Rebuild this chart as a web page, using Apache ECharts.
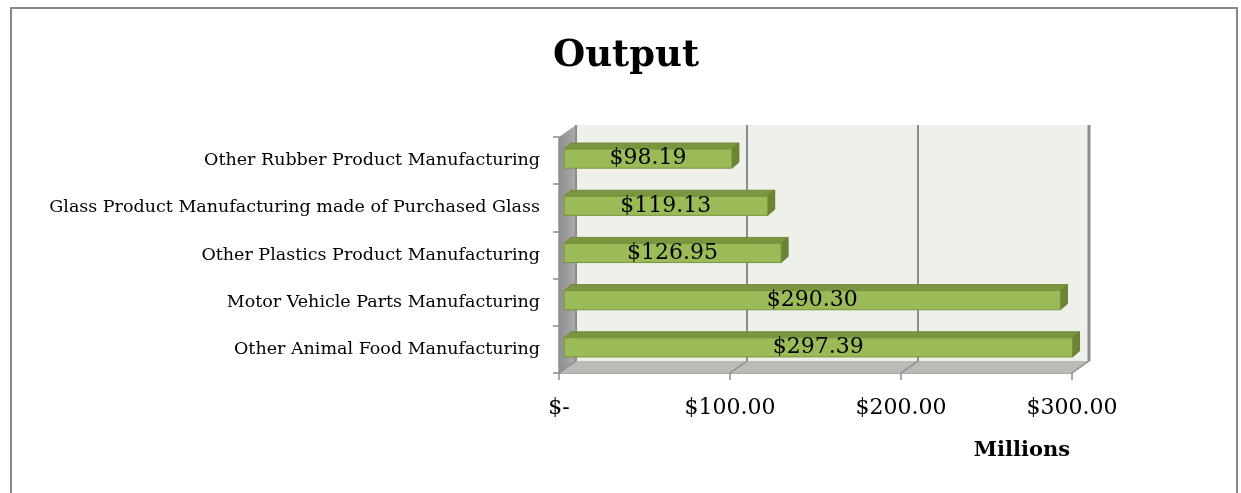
<!DOCTYPE html>
<html>
<head>
<meta charset="utf-8">
<title>Output</title>
<script src="https://cdn.jsdelivr.net/npm/echarts@6/dist/echarts.min.js"></script>
<style>
  html, body { margin: 0; padding: 0; background: #fff; }
  #chart { width: 1241px; height: 493px; }
</style>
</head>
<body>
<div id="chart"></div>
<script>
// values in millions of dollars
const categories = [
  'Other Rubber Product Manufacturing',
  'Glass Product Manufacturing made of Purchased Glass',
  'Other Plastics Product Manufacturing',
  'Motor Vehicle Parts Manufacturing',
  'Other Animal Food Manufacturing'
];
const outputValues = [98.19, 119.13, 126.95, 290.30, 297.39];
const xTicks = [0, 100, 200, 300];

const FONT = 'DejaVu Serif';
// depth of the 3d box (back wall offset)
const DX = 17, DY = -12;

function money(v) {
  return v === 0 ? '$-' : '$' + v.toFixed(2);
}

const chart = echarts.init(document.getElementById('chart'));

// walls + floor
function renderWalls(params, api) {
  const cs = params.coordSys;
  const x0 = cs.x, y0 = cs.y, x1 = cs.x + cs.width, y1 = cs.y + cs.height;
  return {
    type: 'group',
    children: [
      {
        type: 'rect',
        shape: { x: x0 + DX, y: y0 + DY, width: cs.width, height: cs.height },
        style: { fill: '#eef0ea' }
      },
      {
        type: 'polygon',
        shape: { points: [[x0, y1], [x0 + DX, y1 + DY], [x1 + DX, y1 + DY], [x1, y1]] },
        style: { fill: '#b9bbb4' }
      },
      {
        type: 'polygon',
        shape: { points: [[x0, y0], [x0 + DX, y0 + DY], [x0 + DX, y1 + DY], [x0, y1]] },
        style: {
          fill: new echarts.graphic.LinearGradient(0, 0, 1, 0, [
            { offset: 0, color: '#8f8f8f' },
            { offset: 1, color: '#ababab' }
          ])
        }
      }
    ]
  };
}

// gridlines on back wall + floor
function renderGrid(params, api) {
  const cs = params.coordSys;
  const y0 = cs.y, y1 = cs.y + cs.height;
  const x = api.coord([api.value(0), 0])[0];
  const last = api.value(0) === xTicks[xTicks.length - 1];
  return {
    type: 'group',
    children: [
      {
        type: 'line',
        shape: { x1: x + DX, y1: y0 + DY, x2: x + DX, y2: y1 + DY },
        style: { stroke: '#8c8c8c', lineWidth: last ? 3 : 2 }
      },
      {
        type: 'line',
        shape: { x1: x, y1: y1, x2: x + DX, y2: y1 + DY },
        style: { stroke: '#8c8c8c', lineWidth: 1.5 }
      }
    ]
  };
}

// 3d-looking bar
function renderBar(params, api) {
  const v = api.value(0);
  const cat = api.value(1);
  const s = api.coord([0, cat]);
  const e = api.coord([v, cat]);
  const bh = api.size([0, 1])[1];
  const ox = 5, dx = 7, dy = -6;
  const top = s[1] - 0.245 * bh;
  const bot = s[1] + 0.16 * bh;
  const xa = s[0] + ox, xb = e[0] + ox;
  return {
    type: 'group',
    children: [
      {
        type: 'polygon',
        shape: { points: [[xa, top], [xa + dx, top + dy], [xb + dx, top + dy], [xb, top]] },
        style: { fill: '#7a9640', stroke: '#6f8a3a', lineWidth: 1 }
      },
      {
        type: 'polygon',
        shape: { points: [[xb, top], [xb + dx, top + dy], [xb + dx, bot + dy], [xb, bot]] },
        style: { fill: '#6b8535', stroke: '#647d32', lineWidth: 1 }
      },
      {
        type: 'rect',
        shape: { x: xa, y: top, width: xb - xa, height: bot - top },
        style: { fill: '#9bbb59', stroke: '#76943c', lineWidth: 1 }
      },
      {
        type: 'text',
        style: {
          text: money(v),
          x: (xa + xb) / 2,
          y: (top + bot) / 2,
          align: 'center',
          verticalAlign: 'middle',
          font: '22px "' + FONT + '"',
          fill: '#000'
        }
      }
    ]
  };
}

const option = {
  animation: false,
  backgroundColor: '#fff',
  title: {
    text: 'Output',
    left: 621,
    top: 33,
    textAlign: 'center',
    textStyle: { fontFamily: FONT, fontWeight: 'bold', fontSize: 37, color: '#000' }
  },
  graphic: [
    {
      type: 'rect',
      silent: true,
      shape: { x: 11, y: 8, width: 1226, height: 520 },
      style: { fill: 'none', stroke: '#888', lineWidth: 2 }
    }
  ],
  grid: { left: 559, right: 169, top: 137, bottom: 120 },
  xAxis: {
    type: 'value',
    min: 0,
    max: 300,
    interval: 100,
    name: 'Millions',
    nameLocation: 'end',
    nameGap: 0,
    nameTextStyle: {
      fontFamily: FONT, fontWeight: 'bold', fontSize: 21, color: '#000',
      align: 'right', verticalAlign: 'top', padding: [67, 2, 0, 0]
    },
    splitLine: { show: false },
    axisLine: { show: true, lineStyle: { color: '#8c8c8c', width: 1.5 } },
    axisTick: { show: true, length: 7, lineStyle: { color: '#8c8c8c', width: 1.5 } },
    axisLabel: {
      margin: 24,
      fontFamily: FONT, fontSize: 22, color: '#000',
      formatter: money
    }
  },
  yAxis: {
    type: 'category',
    data: categories,
    inverse: true,
    axisLine: { show: true, lineStyle: { color: '#8c8c8c', width: 1.5 } },
    axisTick: { show: true, length: 6, lineStyle: { color: '#8c8c8c', width: 1.5 } },
    axisLabel: {
      margin: 19, fontFamily: FONT, fontSize: 17.5, color: '#000',
      padding: [0, 0, 4, 0]
    }
  },
  series: [
    {
      type: 'custom',
      name: 'walls',
      z: 1,
      silent: true,
      renderItem: renderWalls,
      data: [[0, 0]]
    },
    {
      type: 'custom',
      name: 'gridlines',
      z: 2,
      silent: true,
      renderItem: renderGrid,
      data: xTicks.map(t => [t, 0])
    },
    {
      type: 'custom',
      name: 'Output',
      z: 3,
      renderItem: renderBar,
      encode: { x: 0, y: 1 },
      data: outputValues.map((v, i) => [v, i])
    }
  ]
};

chart.setOption(option);
</script>
</body>
</html>
